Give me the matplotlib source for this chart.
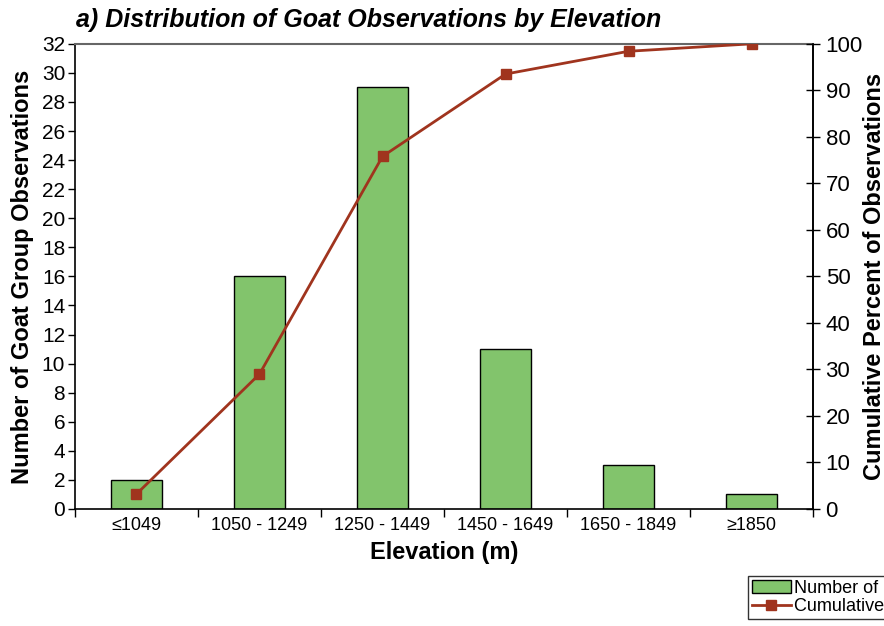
import matplotlib
matplotlib.use("Agg")
import matplotlib.pyplot as plt
import numpy as np

elev_bins = ["≤1049", "1050 - 1249", "1250 - 1449", "1450 - 1649", "1650 - 1849", "≥1850"]
goat_counts = [2, 16, 29, 11, 3, 1]
cum_percent = [3.2, 29.0, 75.8, 93.5, 98.4, 100.0]

font = "Liberation Sans"
bar_green = "#82c46c"
line_red = "#a0341e"

fig = plt.figure(figsize=(8.84, 6.26), dpi=100)
ax = fig.add_axes([0.0848, 0.187, 0.835, 0.743])
x = np.arange(len(elev_bins))

bars = ax.bar(x, goat_counts, width=0.41, color=bar_green, edgecolor="black", linewidth=1,
              label="Number of Goat Group Observations", zorder=2)
ax.set_xlim(-0.5, len(elev_bins) - 0.5)
ax.set_ylim(0, 32)
ax.set_yticks(range(0, 33, 2))
ax.set_xticks(x)
ax.set_xticklabels(elev_bins, fontfamily=font, fontsize=13)
ax.set_xticks(np.arange(-0.5, len(elev_bins)), minor=True)
ax.tick_params(axis="x", which="major", length=0, pad=6)
ax.tick_params(axis="x", which="minor", length=6, width=1, direction="out")
ax.tick_params(axis="y", length=5, width=1, direction="out", labelsize=15, pad=2)
for lab in ax.get_yticklabels():
    lab.set_fontfamily(font)
ax.spines["top"].set_color("#666666")
ax.spines["top"].set_linewidth(1.5)
for s in ["left", "bottom", "right"]:
    ax.spines[s].set_linewidth(1.2)
ax.set_ylabel("Number of Goat Group Observations", fontsize=17, fontweight="bold",
              fontfamily=font, labelpad=6)
ax.set_xlabel("Elevation (m)", fontsize=17, fontweight="bold", fontfamily=font, labelpad=5)

ax2 = ax.twinx()
line, = ax2.plot(x, cum_percent, color=line_red, linewidth=2, marker="s", markersize=7,
                 label="Cumulative Percent of Observations", zorder=3)
ax2.set_ylim(0, 100)
ax2.set_yticks(range(0, 101, 10))
ax2.tick_params(axis="y", length=10, width=1, direction="inout", labelsize=16, pad=4)
for lab in ax2.get_yticklabels():
    lab.set_fontfamily(font)
ax2.set_ylabel("Cumulative Percent of Observations", fontsize=17, fontweight="bold",
               fontfamily=font, labelpad=0)
for s in ax2.spines.values():
    s.set_visible(False)
ax2.spines["right"].set_visible(True)
ax2.spines["right"].set_linewidth(1.2)

fig.text(0.086, 0.968, "a) Distribution of Goat Observations by Elevation", fontsize=18,
         fontweight="bold", fontstyle="italic", fontfamily=font, va="center", ha="left")

leg = fig.legend([bars, line], [bars.get_label(), line.get_label()],
                 loc="upper left", bbox_to_anchor=(748 / 884, 1 - 576 / 626),
                 frameon=True, fancybox=False, edgecolor="black",
                 prop={"family": font, "size": 13}, handlelength=2.2,
                 borderpad=0.2, labelspacing=0.1, handletextpad=0.15, borderaxespad=0)
leg.get_frame().set_linewidth(1)

fig.savefig("out.png", dpi=100)
